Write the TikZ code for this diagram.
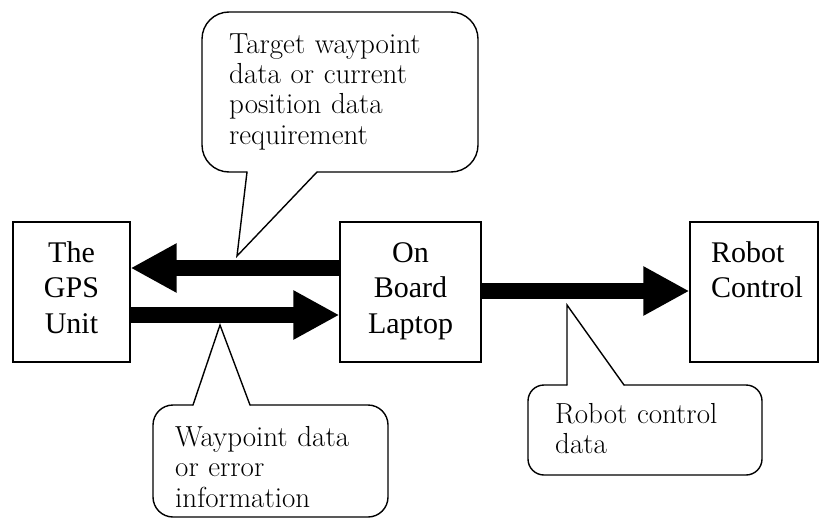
\documentclass[tikz,border=0pt]{standalone}
\usepackage{fontspec}
\setmainfont{Latin Modern Roman}
\newfontfamily\unitfont{LiberationSerif-Regular.ttf}
\usetikzlibrary{arrows.meta}

\begin{document}
\begin{tikzpicture}[x=1pt,y=-1pt,
    unitbox/.style={rectangle,draw=black,line width=1.2pt,inner sep=0pt,minimum height=140pt},
    unitlabel/.style={font=\unitfont\fontsize{30}{35.5}\selectfont,text width=110pt,inner sep=0pt},
    bubble/.style={draw=black,line width=1.4pt,line cap=round},
    bubbletext/.style={font=\fontsize{29}{30.5}\selectfont,text width=250pt,align=left,inner sep=0pt,anchor=base west},
    dataflow/.style={line width=15.5pt,-{Triangle[length=46pt,width=46pt]}}]
  \useasboundingbox (0,0) rectangle (819,519);
  \path
  (71.5,292) node[unitbox,minimum width=117pt] (gps) {}
  (410.5,292) node[unitbox,minimum width=141pt] (laptop) {}
  (754,292) node[unitbox,minimum width=128pt] (robot) {}

  (71.5,262) node[unitlabel,align=center,anchor=base] (gpstxt) {The\\GPS\\Unit}
  (410.5,262) node[unitlabel,align=center,anchor=base] (laptoptxt) {On\\Board\\Laptop}
  (711,262) node[unitlabel,align=left,anchor=base west] (robottxt) {Robot\\Control}

  (229,53) node[bubbletext] (reqtxt) {Target waypoint\\data or current\\position data\\requirement}
  (175,446) node[bubbletext] (replytxt) {Waypoint data\\or error\\information}
  (555,423) node[bubbletext] (ctrltxt) {Robot control\\data};

  % data flow between the units
  \draw[dataflow] ([yshift=24pt]laptop.west) -- ([yshift=24pt]gps.east);
  \draw[dataflow] ([yshift=-23pt]gps.east) -- ([yshift=-23pt]laptop.west);
  \draw[dataflow] ([yshift=1pt]laptop.east) -- ([yshift=1pt]robot.west);

  % callouts
  \coordinate (reqtip) at (237,256);
  \coordinate (replytip) at (220,325);
  \coordinate (ctrltip) at (567,305);
  \draw[bubble,rounded corners=27pt] (317,172) -- (478,172) -- (478,12) -- (202,12) -- (202,172) -- (247,172);
  \draw[bubble] (247,172) -- (reqtip) -- (317,172);
  \draw[bubble,rounded corners=20pt] (250,405) -- (388,405) -- (388,517) -- (153,517) -- (153,405) -- (193,405);
  \draw[bubble] (193,405) -- (replytip) -- (250,405);
  \draw[bubble,rounded corners=16pt] (624,385) -- (762,385) -- (762,475) -- (528,475) -- (528,385) -- (567,385);
  \draw[bubble] (567,385) -- (ctrltip) -- (624,385);
\end{tikzpicture}
\end{document}
